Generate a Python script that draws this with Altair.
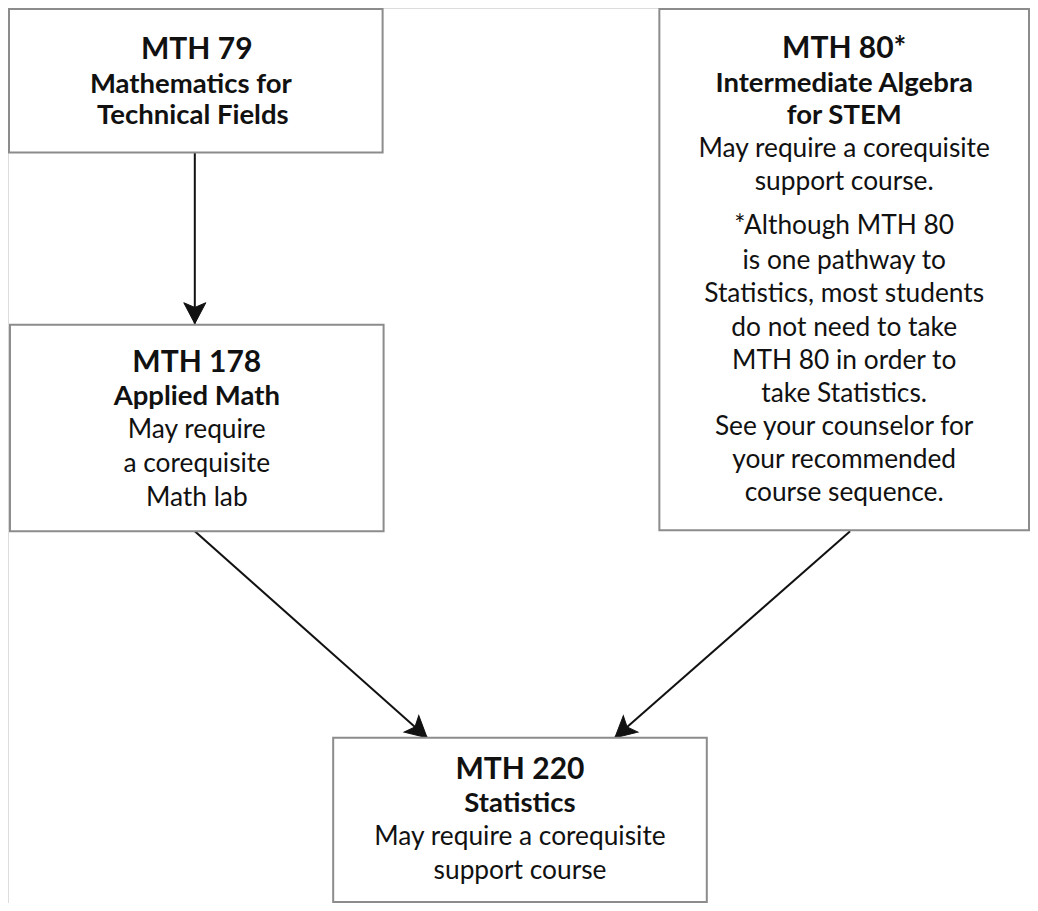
import math
import altair as alt
import pandas as pd

# Boxes (course nodes): left, right, top, bottom in picture units
box_id = ["MTH79", "MTH178", "MTH80", "MTH220"]
box_x0 = [4, 5, 662, 332]
box_x1 = [382, 383, 1036, 710]
box_y0 = [2, 323, 2, 743]
box_y1 = [148, 533, 532, 910]

# Arrows (prerequisite paths)
arr_x0 = [192, 192, 855]
arr_y0 = [148, 533, 533]
arr_x1 = [192, 427, 617]
arr_y1 = [322, 743, 743]

# Text lines: (text, center x, baseline y, style)
titles = ["MTH 79", "MTH 178", "MTH 80*", "MTH 220"]
title_x = [194, 194, 849, 521]
title_y = [53, 371, 52, 785]

subtitles = ["Mathematics for", "Technical Fields", "Applied Math",
             "Intermediate Algebra", "for STEM", "Statistics"]
sub_x = [188, 190, 194, 849, 849, 521]
sub_y = [87, 119, 405, 86, 119, 818]

body = ["May require", "a corequisite", "Math lab",
        "May require a corequisite", "support course.",
        "*Although MTH 80", "is one pathway to", "Statistics, most students",
        "do not need to take", "MTH 80 in order to", "take Statistics.",
        "See your counselor for", "your recommended", "course sequence.",
        "May require a corequisite", "support course"]
body_x = [194, 194, 194,
          849, 849,
          849, 849, 849, 849, 849, 849, 849, 849, 849,
          521, 521]
body_y = [438, 473, 507,
          152, 186,
          231, 266, 300, 334, 368, 402, 435, 469, 502,
          852, 887]

boxes = pd.DataFrame({"id": box_id, "x0": box_x0, "x1": box_x1, "y0": box_y0, "y1": box_y1})
arrows = pd.DataFrame({"x0": arr_x0, "y0": arr_y0, "x1": arr_x1, "y1": arr_y1})
arrows["angle"] = [
    (math.degrees(math.atan2(x1 - x0, -(y1 - y0))) + 360) % 360
    for x0, y0, x1, y1 in zip(arr_x0, arr_y0, arr_x1, arr_y1)
]
t_df = pd.DataFrame({"t": titles, "x": title_x, "y": title_y})
s_df = pd.DataFrame({"t": subtitles, "x": sub_x, "y": sub_y})
b_df = pd.DataFrame({"t": body, "x": body_x, "y": body_y})

W, H = 1022, 895
xs = alt.Scale(domain=[3, 1037], nice=False, zero=False)
ys = alt.Scale(domain=[1, 911], nice=False, zero=False, reverse=True)
X = lambda f: alt.X(f, type="quantitative", scale=xs, axis=None)
Y = lambda f: alt.Y(f, type="quantitative", scale=ys, axis=None)

rects = alt.Chart(boxes).mark_rect(fill="white", stroke="#8c8c8c", strokeWidth=2).encode(
    x=X("x0"), x2="x1", y=Y("y0"), y2="y1"
)
lines = alt.Chart(arrows).mark_rule(color="#111111", strokeWidth=2).encode(
    x=X("x0"), y=Y("y0"), x2="x1", y2="y1"
)
head_path = "M0,0 L-1.05,2 L0,1.55 L1.05,2 Z"
heads = alt.Chart(arrows).mark_point(
    shape=head_path, filled=True, fill="#111111", stroke="#111111", strokeWidth=1,
    size=440, opacity=1
).encode(x=X("x1"), y=Y("y1"), angle=alt.Angle("angle:Q", scale=None))

font = "Lato"
tt = alt.Chart(t_df).mark_text(font=font, fontWeight="bold", fontSize=30, align="center",
                               baseline="alphabetic", color="#111111").encode(
    x=X("x"), y=Y("y"), text="t:N")
st = alt.Chart(s_df).mark_text(font=font, fontWeight="bold", fontSize=27.5, align="center",
                               baseline="alphabetic", color="#111111").encode(
    x=X("x"), y=Y("y"), text="t:N")
bt = alt.Chart(b_df).mark_text(font=font, fontWeight="normal", fontSize=26.3, align="center",
                               baseline="alphabetic", color="#111111").encode(
    x=X("x"), y=Y("y"), text="t:N")

chart = alt.layer(lines, heads, rects, tt, st, bt).properties(
    width=W, height=H, padding=0, autosize=alt.AutoSizeParams(type="none")
).configure_view(stroke=None).configure(background="white")

chart.save("out.html", embed_options={"renderer": "svg", "actions": False})
